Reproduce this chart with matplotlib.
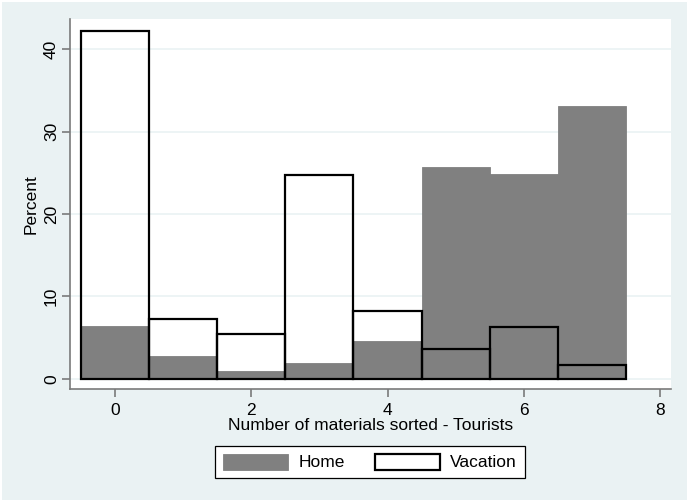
import matplotlib.pyplot as plt
import matplotlib.patches as mpatches
import numpy as np

plt.rcParams['font.family'] = ['Liberation Sans', 'DejaVu Sans']

# number of materials sorted (bin centres) and percent of tourists
materials = [0, 1, 2, 3, 4, 5, 6, 7]
home = [6.4, 2.75, 0.95, 1.9, 4.6, 25.7, 24.9, 33.1]
vacation = [42.2, 7.25, 5.4, 24.7, 8.2, 3.55, 6.3, 1.7]

bg = '#eaf2f3'
axis_col = '#7a7a7a'

fig = plt.figure(figsize=(6.87, 5.0), dpi=100, facecolor='white')
fig.patches.append(mpatches.Rectangle((2 / 687, 0), 1, 1 - 2 / 500,
                                      transform=fig.transFigure,
                                      facecolor=bg, edgecolor='none', zorder=-10))

ax = fig.add_axes([70 / 687, 1 - 389 / 500, (671 - 70) / 687, (389 - 19) / 500])
ax.set_facecolor('white')

ax.bar(materials, home, width=1.0, color='#808080', edgecolor='#808080',
       linewidth=0.6, zorder=2, label='Home')
ax.bar(materials, vacation, width=1.0, facecolor='none', edgecolor='black',
       linewidth=1.6, zorder=3, label='Vacation')

ax.set_xlim(-0.66, 8.16)
ax.set_ylim(-1.25, 43.7)
ax.set_xticks([0, 2, 4, 6, 8])
ax.set_yticks([0, 10, 20, 30, 40])
ax.grid(axis='y', color=bg, linewidth=1.2, zorder=0)
ax.set_axisbelow(True)

for s in ['top', 'right']:
    ax.spines[s].set_visible(False)
for s in ['left', 'bottom']:
    ax.spines[s].set_color(axis_col)
    ax.spines[s].set_linewidth(1.2)

ax.tick_params(axis='both', colors=axis_col, labelcolor='black',
               labelsize=12.5, length=6, width=1.2)
ax.tick_params(axis='x', pad=4)
ax.tick_params(axis='y', pad=2)
for lab in ax.get_yticklabels():
    lab.set_rotation(90)
    lab.set_va('center')

ax.set_xlabel('Number of materials sorted - Tourists', fontsize=12.5, labelpad=0)
ax.set_ylabel('Percent', fontsize=12.5, labelpad=4)

leg = fig.legend(loc='center', bbox_to_anchor=(370 / 687, 1 - 462 / 500), ncol=2,
                 fontsize=12.5, frameon=True, fancybox=False,
                 handlelength=3.75, handleheight=1.05, handletextpad=0.6,
                 columnspacing=1.7, borderpad=0.45)
leg.get_frame().set_edgecolor('black')
leg.get_frame().set_linewidth(0.9)
leg.get_frame().set_facecolor('white')
leg.get_frame().set_alpha(1)

fig.savefig('out.png', dpi=100, facecolor=fig.get_facecolor())
